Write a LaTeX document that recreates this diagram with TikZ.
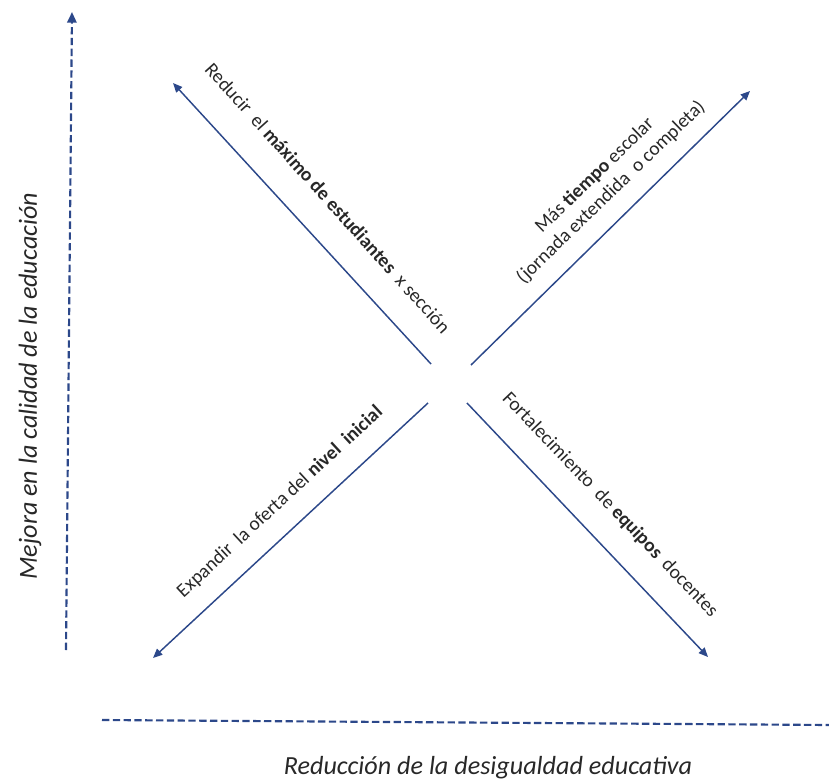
\documentclass[tikz,border=0pt]{standalone}
\usepackage{fontspec}
\setmainfont{Carlito}
\usetikzlibrary{arrows.meta}
\definecolor{navy}{RGB}{44,72,138}
\definecolor{txt}{RGB}{40,40,40}
\tikzset{
  axisline/.style={draw=navy, line width=1.6pt, dash pattern=on 5.5pt off 2.6pt},
  diagarrow/.style={draw=navy, line width=1.1pt, -{Triangle[length=7pt,width=6pt]}},
  axislabel/.style={font=\itshape\fontsize{19.6}{22}\selectfont, text=txt, inner sep=0pt},
  diaglabel/.style={font=\fontsize{14.6}{17.5}\selectfont, text=txt, inner sep=0pt, align=center}
}
\begin{document}
\begin{tikzpicture}[x=0.75pt,y=0.75pt]
\useasboundingbox (0,0) rectangle (829,-782);
% axes
\coordinate (vb) at (66,-650);
\coordinate (vt) at (72,-12);
\coordinate (hl) at (102,-720);
\coordinate (hr) at (829,-725);
\draw[axisline, -{Triangle[length=8pt,width=7pt]}] (vb) -- (vt);
\draw[axisline] (hl) -- (hr);
% diagonal arrows
\coordinate (nws) at (431,-364);
\coordinate (nwe) at (173,-83);
\coordinate (nes) at (471,-365);
\coordinate (nee) at (750,-91);
\coordinate (sws) at (428,-403);
\coordinate (swe) at (153,-658);
\coordinate (ses) at (467,-403);
\coordinate (see) at (708,-657);
\draw[diagarrow] (nws) -- (nwe);
\draw[diagarrow] (nes) -- (nee);
\draw[diagarrow] (sws) -- (swe);
\draw[diagarrow] (ses) -- (see);
% labels
\node[axislabel, rotate=90] (ylab) at (30,-386) {Mejora en la calidad de la educación};
\node[axislabel] (xlab) at (488,-768) {Reducción de la desigualdad educativa};
\node[diaglabel, rotate=-48] (tnw) at (328,-198) {Reducir\ \ el \textbf{máximo de estudiantes} \ x sección};
\node[diaglabel, rotate=44] (tne) at (603,-184) {Más \textbf{tiempo} escolar\\(jornada extendida\ \ o completa)};
\node[diaglabel, rotate=42.7] (tsw) at (280,-502) {Expandir\ \ la oferta del \textbf{nivel\ \ inicial}};
\node[diaglabel, rotate=-46.3] (tse) at (610,-505) {Fortalecimiento\ \ de \textbf{equipos}\ \ docentes};
\end{tikzpicture}
\end{document}
